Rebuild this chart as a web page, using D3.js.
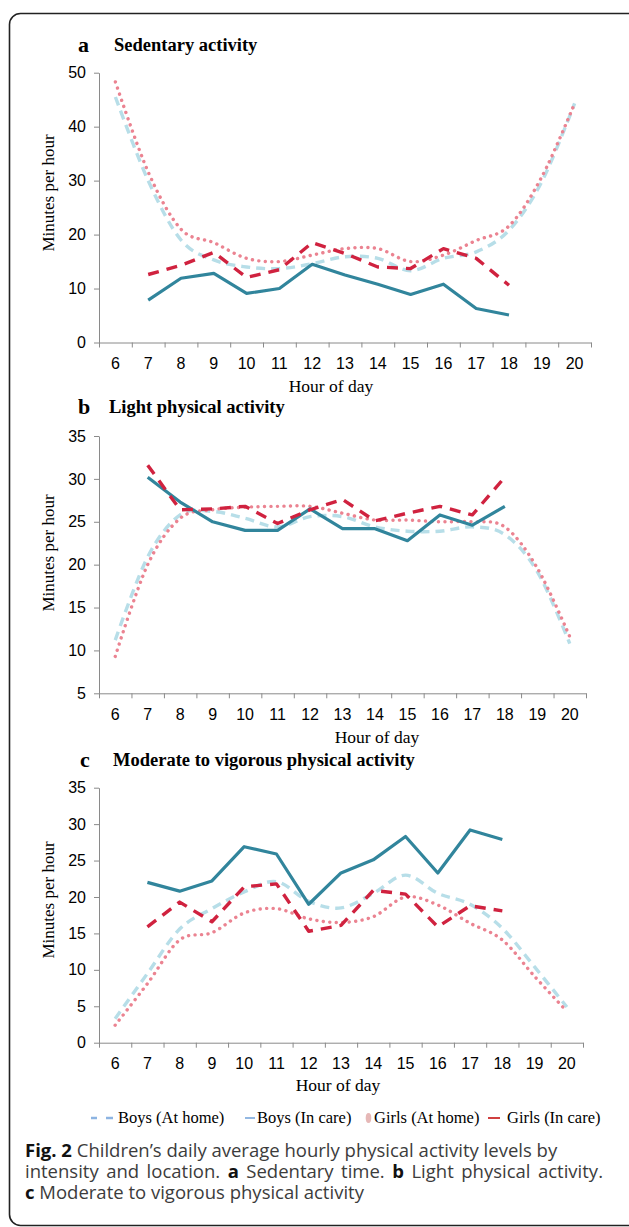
<!DOCTYPE html>
<html>
<head>
<meta charset="utf-8">
<script src="https://cdn.jsdelivr.net/npm/d3@7"></script>
<style>
  body { margin: 0; background: #fff; }
  svg { display: block; }
  .axis path, .axis line { stroke: #8a8a8a; stroke-width: 1; }
  .serif { font-family: "Liberation Serif", "Times New Roman", serif; }
</style>
</head>
<body>
<div id="chart"></div>
<script>
// hours on the x axis
const hours = [6, 7, 8, 9, 10, 11, 12, 13, 14, 15, 16, 17, 18, 19, 20];
const careHours = [7, 8, 9, 10, 11, 12, 13, 14, 15, 16, 17, 18];

// a - sedentary
const sedBoysHome = [45.5, 30.0, 19.0, 15.3, 14.0, 13.7, 14.6, 15.9, 15.6, 13.3, 15.6, 16.8, 20.8, 29.8, 44.3];
const sedBoysCare = [7.85, 11.9, 12.8, 9.1, 10.0, 14.5, 12.5, 10.8, 8.9, 10.8, 6.3, 5.1];
const sedGirlsHome = [48.3, 31.6, 21.0, 18.5, 15.6, 15.0, 16.2, 17.4, 17.4, 15.0, 16.2, 18.9, 21.6, 30.7, 44.3];
const sedGirlsCare = [12.6, 14.3, 16.7, 12.05, 13.5, 18.5, 16.5, 14.0, 13.7, 17.4, 15.6, 10.6];

// b - light
const lpaBoysHome = [11.2, 20.9, 25.8, 26.2, 25.4, 24.4, 25.6, 25.6, 24.4, 23.9, 23.9, 24.4, 23.5, 19.2, 10.8];
const lpaBoysCare = [30.2, 27.3, 25.0, 24.0, 24.0, 26.5, 24.2, 24.2, 22.8, 25.8, 24.6, 26.8];
const lpaGirlsHome = [9.3, 20.0, 25.4, 26.4, 26.7, 26.8, 26.8, 26.0, 25.2, 25.2, 25.0, 25.0, 24.4, 19.6, 11.6];
const lpaGirlsCare = [31.6, 26.4, 26.5, 26.8, 24.8, 26.4, 27.6, 25.1, 26.0, 26.8, 25.8, 30.2];

// c - MVPA
const mvpaBoysHome = [3.3, 9.5, 15.6, 18.4, 20.7, 22.1, 19.4, 18.5, 20.5, 23.0, 20.5, 19.0, 15.7, 10.4, 4.9];
const mvpaBoysCare = [22.0, 20.8, 22.2, 26.9, 25.9, 19.0, 23.3, 25.1, 28.3, 23.3, 29.2, 27.9];
const mvpaGirlsHome = [2.4, 8.1, 14.1, 15.1, 17.8, 18.4, 17.0, 16.5, 17.3, 20.0, 18.9, 16.4, 14.1, 9.1, 4.3];
const mvpaGirlsCare = [15.9, 19.3, 16.6, 21.4, 21.8, 15.3, 16.1, 20.9, 20.4, 15.9, 18.8, 18.1];

const sedTicks = [0, 10, 20, 30, 40, 50];
const lpaTicks = [5, 10, 15, 20, 25, 30, 35];
const mvpaTicks = [0, 5, 10, 15, 20, 25, 30, 35];

const legendLabels = ["Boys (At home)", "Boys (In care)", "Girls (At home)", "Girls (In care)"];

let width = 629, height = 1227;

let svg = d3.select('#chart').append('svg')
  .attr('width', width)
  .attr('height', height);

// rounded frame
svg.append('rect')
  .attr('x', 9.5).attr('y', 13.5)
  .attr('width', 630).attr('height', 1212)
  .attr('rx', 11)
  .attr('fill', 'none')
  .attr('stroke', '#222')
  .attr('stroke-width', 1.6);

let styles = {
  boysHome: { color: '#b7dee8', width: 3.4, dash: '9,6', cap: 'butt' },
  girlsHome: { color: '#eb8391', width: 3.4, dash: '0.1,6.4', cap: 'round' },
  boysCare: { color: '#31859c', width: 3.2, dash: null, cap: 'butt' },
  girlsCare: { color: '#d0223f', width: 3.4, dash: '11,8', cap: 'butt' }
};

let panels = [
  { letter: 'a', title: 'Sedentary activity', letterX: 78, titleX: 114, titleY: 52,
    left: 99, right: 591, top: 72.7, bottom: 342.5, domain: [0, 50], ticks: sedTicks,
    ylabY: 193, xlabX: 331, xlabY: 392,
    boysHome: sedBoysHome, boysCare: sedBoysCare, girlsHome: sedGirlsHome, girlsCare: sedGirlsCare },
  { letter: 'b', title: 'Light physical activity', letterX: 78, titleX: 109, titleY: 414,
    left: 99, right: 586, top: 436, bottom: 693.3, domain: [5, 35], ticks: lpaTicks,
    ylabY: 553, xlabX: 377, xlabY: 743,
    boysHome: lpaBoysHome, boysCare: lpaBoysCare, girlsHome: lpaGirlsHome, girlsCare: lpaGirlsCare },
  { letter: 'c', title: 'Moderate to vigorous physical activity', letterX: 80, titleX: 113, titleY: 767,
    left: 99, right: 583, top: 787.7, bottom: 1042.7, domain: [0, 35], ticks: mvpaTicks,
    ylabY: 900, xlabX: 338, xlabY: 1091,
    boysHome: mvpaBoysHome, boysCare: mvpaBoysCare, girlsHome: mvpaGirlsHome, girlsCare: mvpaGirlsCare }
];

function tickFont(s) {
  s.selectAll('.tick text')
    .style('font-family', '"Liberation Sans", Arial, sans-serif')
    .style('font-size', '16px')
    .style('fill', '#000');
}

panels.forEach(function (p) {
  let g = svg.append('g');

  let xScale = d3.scaleBand().domain(hours).range([p.left, p.right]).padding(0);
  let xEdge = d3.scaleLinear().domain([0, hours.length]).range([p.left, p.right]);
  let yScale = d3.scaleLinear().domain(p.domain).range([p.bottom, p.top]);
  let xc = h => xScale(h) + xScale.bandwidth() / 2;

  // title
  g.append('text').attr('class', 'serif')
    .attr('x', p.letterX).attr('y', p.titleY)
    .style('font-size', '22px').style('font-weight', 'bold')
    .text(p.letter);
  g.append('text').attr('class', 'serif')
    .attr('x', p.titleX).attr('y', p.titleY - 1)
    .style('font-size', '18.5px').style('font-weight', 'bold')
    .text(p.title);

  // x axis: tick marks between categories
  g.append('g').attr('class', 'axis')
    .attr('transform', `translate(0,${p.bottom})`)
    .call(d3.axisBottom(xEdge).tickValues(d3.range(0, hours.length + 1)).tickSize(5).tickSizeOuter(0).tickFormat(''));

  // x labels
  g.append('g')
    .attr('transform', `translate(0,${p.bottom})`)
    .call(d3.axisBottom(xScale).tickSize(0).tickPadding(15))
    .call(s => s.select('.domain').remove())
    .call(tickFont);

  // y axis
  g.append('g').attr('class', 'axis')
    .attr('transform', `translate(${p.left},0)`)
    .call(d3.axisLeft(yScale).tickValues(p.ticks).tickSize(5).tickSizeOuter(0).tickPadding(8))
    .call(tickFont);

  g.append('text').attr('class', 'serif')
    .attr('transform', `translate(54,${p.ylabY}) rotate(-90)`)
    .style('text-anchor', 'middle').style('font-size', '17px')
    .text('Minutes per hour');

  g.append('text').attr('class', 'serif')
    .attr('x', p.xlabX).attr('y', p.xlabY)
    .style('text-anchor', 'middle').style('font-size', '17.5px')
    .text('Hour of day');

  let smooth = d3.line().x(d => xc(d[0])).y(d => yScale(d[1])).curve(d3.curveCatmullRom.alpha(0));
  let straight = d3.line().x(d => xc(d[0])).y(d => yScale(d[1]));

  let series = [
    { key: 'boysHome', x: hours, line: smooth },
    { key: 'girlsHome', x: hours, line: smooth },
    { key: 'boysCare', x: careHours, line: straight },
    { key: 'girlsCare', x: careHours, line: straight }
  ];

  series.forEach(function (s) {
    let st = styles[s.key];
    let pts = s.x.map((h, i) => [h, p[s.key][i]]);
    g.append('path')
      .attr('d', s.line(pts))
      .attr('fill', 'none')
      .attr('stroke', st.color)
      .attr('stroke-width', st.width)
      .attr('stroke-linecap', st.cap)
      .attr('stroke-linejoin', 'round')
      .attr('stroke-dasharray', st.dash);
  });
});

// legend
let legY = 1118;
let leg = svg.append('g');
leg.append('line').attr('x1', 91).attr('x2', 97).attr('y1', legY).attr('y2', legY)
  .attr('stroke', '#8db4e2').attr('stroke-width', 2.5);
leg.append('line').attr('x1', 106).attr('x2', 113).attr('y1', legY).attr('y2', legY)
  .attr('stroke', '#8db4e2').attr('stroke-width', 2.5);
leg.append('line').attr('x1', 245).attr('x2', 255).attr('y1', legY).attr('y2', legY)
  .attr('stroke', '#6fa0d8').attr('stroke-width', 1.5);
leg.append('ellipse').attr('cx', 368.5).attr('cy', legY).attr('rx', 2.8).attr('ry', 5)
  .attr('fill', '#e6b8b7');
leg.append('line').attr('x1', 488).attr('x2', 500).attr('y1', legY).attr('y2', legY)
  .attr('stroke', '#c00000').attr('stroke-width', 1.5);

let legX = [118, 257, 374, 507];
leg.selectAll('text.leg')
  .data(legendLabels)
  .enter().append('text')
  .attr('class', 'serif leg')
  .attr('x', (d, i) => legX[i])
  .attr('y', legY + 5)
  .style('font-size', '16.5px')
  .text(d => d);

// caption
let cap = svg.append('g')
  .style('font-family', '"Open Sans", sans-serif')
  .style('font-size', '18.5px')
  .style('fill', '#3c3c3c');

let l1 = cap.append('text').attr('x', 25).attr('y', 1157);
l1.append('tspan').style('font-weight', 'bold').style('fill', '#111').text('Fig. 2');
l1.append('tspan').text(' Children\u2019s daily average hourly physical activity levels by');

let l2 = cap.append('text').attr('x', 25).attr('y', 1178);
l2.append('tspan').text('intensity and location. ');
l2.append('tspan').style('font-weight', 'bold').style('fill', '#111').text('a');
l2.append('tspan').text(' Sedentary time. ');
l2.append('tspan').style('font-weight', 'bold').style('fill', '#111').text('b');
l2.append('tspan').text(' Light physical activity.');

// justify the second line
let gaps2 = 9;
let gap = (603 - 25 - l2.node().getComputedTextLength()) / gaps2;
l2.attr('word-spacing', Math.max(0, gap));

let l3 = cap.append('text').attr('x', 25).attr('y', 1199);
l3.append('tspan').style('font-weight', 'bold').style('fill', '#111').text('c');
l3.append('tspan').text(' Moderate to vigorous physical activity');
</script>
</body>
</html>
